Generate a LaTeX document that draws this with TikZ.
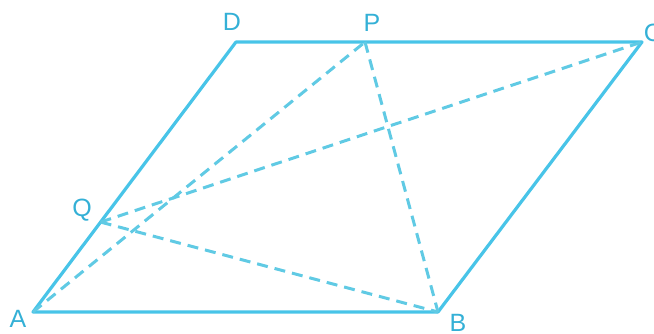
\documentclass[tikz,border=0pt]{standalone}
\usepackage{fontspec}
\setmainfont{Liberation Sans}
\usepackage{xcolor}
\usepackage{tikz}
\usetikzlibrary{calc}
\definecolor{edgecyan}{RGB}{72,196,232}
\definecolor{dashcyan}{RGB}{96,202,228}
\definecolor{labelcyan}{RGB}{52,176,214}

\begin{document}
\begin{tikzpicture}[x=1pt,y=-1pt,font=\fontsize{25}{25}\selectfont]
 \tikzset{side/.style={draw=edgecyan,line width=3.2pt,line join=round},
          diag/.style={draw=dashcyan,line width=3pt,dash pattern=on 11pt off 7pt},
          lbl/.style={text=labelcyan,inner sep=0pt}}
 \useasboundingbox (0,0) rectangle (654,334);
 \coordinate (A) at (33,312); \coordinate (B) at (438,312);
 \coordinate (C) at (642,42); \coordinate (D) at (236,42);
 \coordinate (P) at (365,42); \coordinate (Q) at ($(A)!0.333!(D)$);
 \draw[side] (A)--(B)--(C)--(D)--cycle;
 \draw[diag] (A)--(P); \draw[diag] (P)--(B);
 \draw[diag] (Q)--(C); \draw[diag] (Q)--(B);
 \node[lbl] (la) at (18,319) {A};
 \node[lbl] (lb) at (458,323) {B};
 \node[lbl] (lc) at (653,33) {C};
 \node[lbl] (ld) at (232,22) {D};
 \node[lbl] (lp) at (372,23) {P};
 \node[lbl] (lq) at (82,210) {Q};
\end{tikzpicture}
\end{document}
